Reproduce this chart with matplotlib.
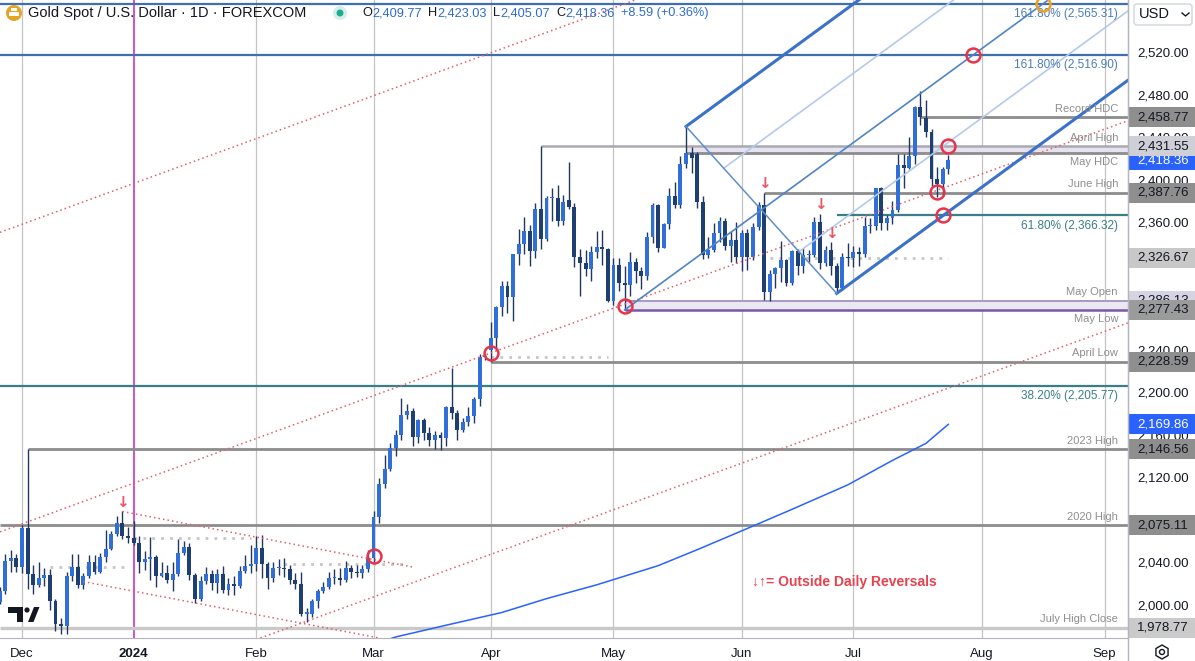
import numpy as np
import pandas as pd
import matplotlib
matplotlib.use("Agg")
import matplotlib.pyplot as plt
from matplotlib.patches import Rectangle, Circle, Polygon, RegularPolygon, FancyBboxPatch
from matplotlib.transforms import blended_transform_factory, Affine2D

plt.rcParams["font.family"] = ["Liberation Sans", "DejaVu Sans"]

# ---------------- data ----------------
first_day, last_day = "2023-11-27", "2024-09-06"
holidays = ["2023-12-25", "2024-01-01"]

# daily OHLC, Nov 27 2023 .. Jul 24 2024
opens = [2003, 2013, 2041, 2044,
         2036, 2072, 2029, 2019, 2025, 2028, 2004, 1982, 1980, 2027, 2036, 2019, 2027, 2040, 2031, 2045, 2053, 2067, 2077, 2065,
         2063, 2058, 2040, 2043, 2045, 2027, 2030, 2024, 2029, 2049, 2055, 2028, 2006, 2023, 2029, 2021, 2029, 2014, 2020, 2018, 2032, 2037,
         2039, 2054, 2039, 2025, 2035, 2035, 2034, 2024, 2020, 1992, 1992, 2004, 2013, 2017, 2025, 2025, 2024, 2035, 2031, 2030, 2034,
         2044, 2083, 2114, 2128, 2148, 2160, 2179, 2182, 2158, 2174, 2162, 2155, 2160, 2157, 2186, 2181, 2165, 2172, 2178, 2194, 2233,
         2240, 2251, 2280, 2300, 2290, 2330, 2339, 2352, 2333, 2372, 2344, 2383, 2383, 2361, 2381, 2374, 2327, 2322, 2316, 2332, 2337, 2335,
         2286.13, 2320, 2303, 2301, 2323, 2314, 2309, 2346, 2376, 2336, 2358, 2385, 2376, 2415, 2425, 2424, 2379, 2329, 2334, 2350, 2361, 2338, 2343,
         2327, 2350, 2327, 2355, 2376, 2294, 2311, 2317, 2324, 2303, 2333, 2319, 2329, 2329, 2360, 2322, 2334, 2319, 2298, 2327,
         2326.67, 2332, 2330, 2356, 2356, 2392, 2359, 2364, 2371, 2414, 2411, 2422, 2468, 2458, 2445, 2401, 2396, 2409.77]
highs = [2017, 2048, 2052, 2048,
         2075, 2146.56, 2038, 2040, 2035, 2034, 2006, 1988, 2031, 2048, 2048, 2030, 2047, 2047, 2049, 2071, 2070, 2084, 2088, 2073,
         2079, 2065, 2051, 2064, 2047, 2040, 2038, 2040, 2062, 2060, 2058, 2030, 2027, 2036, 2033, 2034, 2037, 2025, 2027, 2037, 2047, 2056,
         2065, 2066, 2040, 2040, 2043, 2044, 2038, 2030, 2031, 1997, 2006, 2015, 2022, 2031, 2034, 2035, 2041, 2038, 2038, 2038, 2052,
         2088, 2119, 2141, 2152, 2165, 2195, 2189, 2185, 2175, 2176, 2167, 2164, 2163, 2187, 2223, 2183, 2176, 2186, 2196, 2236, 2236,
         2266, 2281, 2305, 2305, 2330, 2354, 2365, 2357, 2378, 2431.55, 2385, 2392, 2395, 2386, 2417, 2378, 2335, 2334, 2338, 2352, 2353, 2336,
         2326, 2326, 2319, 2332, 2326, 2318, 2351, 2378, 2377, 2359, 2392, 2398, 2422, 2450, 2431, 2426, 2385, 2346, 2359, 2365, 2364, 2352, 2360,
         2353, 2354, 2359, 2379, 2387.76, 2315, 2318, 2342, 2325, 2334, 2335, 2336, 2334, 2365, 2368, 2338, 2341, 2322, 2331, 2340,
         2338, 2337, 2365, 2364, 2392, 2393, 2367, 2380, 2424, 2424, 2440, 2469, 2483, 2475, 2448, 2412, 2412, 2423.03]
lows = [2001, 2010, 2031, 2031,
        2030, 2015, 2010, 2017, 2018, 1995, 1976, 1973, 1973, 2023, 2016, 2015, 2025, 2029, 2030, 2040, 2052, 2065, 2062, 2058,
        2056, 2030, 2033, 2024, 2017, 2026, 2021, 2013, 2027, 2047, 2024, 2002, 2004, 2020, 2014, 2011, 2011, 2009, 2009, 2016, 2030, 2030,
        2032, 2025, 2015, 2022, 2028, 2026, 2020, 2015, 1990, 1984, 1989, 1997, 2011, 2015, 2020, 2019, 2022, 2025, 2026, 2025, 2031,
        2040, 2077, 2110, 2126, 2140, 2155, 2175, 2150, 2152, 2155, 2150, 2147, 2146, 2150, 2175, 2155, 2163, 2168, 2171, 2187, 2230,
        2228.59, 2240, 2272, 2275, 2267, 2320, 2330, 2319, 2326, 2335, 2342, 2361, 2356, 2357, 2372, 2318, 2291, 2309, 2305, 2326, 2320, 2285,
        2282, 2295, 2277.43, 2291, 2303, 2297, 2306, 2340, 2332, 2336, 2354, 2373, 2373, 2411, 2406, 2373, 2325, 2326, 2332, 2341, 2334, 2323, 2322,
        2314, 2315, 2324, 2353, 2287, 2286, 2298, 2304, 2300, 2301, 2310, 2312, 2323, 2327, 2316, 2319, 2310, 2293, 2296, 2319,
        2318, 2319, 2327, 2350, 2353, 2353, 2353, 2358, 2370, 2392, 2410, 2415, 2451, 2440, 2394, 2384, 2385, 2405.07]
closes = [2013, 2041, 2044, 2036,
          2072, 2029, 2019, 2025, 2028, 2004, 1982, 1980, 2027, 2036, 2019, 2027, 2040, 2031, 2045, 2053, 2067, 2077, 2065, 2063,
          2058, 2040, 2043, 2045, 2027, 2030, 2024, 2029, 2049, 2055, 2028, 2006, 2023, 2029, 2021, 2029, 2014, 2020, 2018, 2032, 2037, 2039,
          2054, 2039, 2025, 2035, 2035.5, 2034, 2024, 2020, 1992, 1992.5, 2004, 2013, 2017, 2025, 2025.5, 2024, 2035, 2031, 2030, 2034, 2044,
          2083, 2114, 2128, 2148, 2160, 2179, 2182, 2158, 2174, 2162, 2155, 2160, 2157, 2186, 2181, 2165, 2172, 2178, 2194, 2233, 2234,
          2251, 2280, 2300, 2290, 2330, 2339, 2352, 2333, 2372, 2344, 2383, 2383.5, 2361, 2379, 2374, 2327, 2322, 2316, 2332, 2337, 2335, 2286.13,
          2320, 2303, 2301, 2323, 2314, 2309, 2346, 2376, 2336, 2358, 2385, 2376, 2415, 2425, 2420, 2379, 2329, 2334, 2350, 2361, 2338, 2343, 2327,
          2350, 2327, 2355, 2376, 2294, 2311, 2317, 2324, 2303, 2333, 2319, 2329, 2329.5, 2360, 2322, 2334, 2319, 2298, 2327, 2326.67,
          2332, 2330, 2356, 2356.5, 2392, 2359, 2364, 2371, 2414, 2411, 2422, 2468, 2458.77, 2445, 2401, 2396, 2409.77, 2418.36]

# 200-day moving average, read at a few dates
sma_dates = ["2024-03-01", "2024-03-07", "2024-03-20", "2024-04-03", "2024-04-15", "2024-04-26", "2024-05-13",
             "2024-05-22", "2024-06-04", "2024-06-14", "2024-06-28", "2024-07-10", "2024-07-18", "2024-07-24"]
sma_values = [1963, 1970, 1981, 1993, 2006, 2019, 2037, 2052, 2072, 2090, 2113, 2136, 2152, 2169.86]

# horizontal levels
level_labels = ["161.80% (2,565.31)", "161.80% (2,516.90)", "Record HDC", "April High", "May HDC", "June High",
                "61.80% (2,366.32)", "May Open", "May Low", "April Low", "38.20% (2,205.77)", "2023 High",
                "2020 High", "July High Close"]
level_prices = [2565.31, 2516.90, 2458.77, 2431.55, 2425.0, 2387.76, 2366.32, 2286.13, 2277.43, 2228.59,
                2205.77, 2146.56, 2075.11, 1978.77]
level_starts = [None, None, "2024-07-17", "2024-04-12", "2024-05-20", "2024-06-07", "2024-06-26", "2024-05-03",
                "2024-05-03", "2024-04-01", None, "2023-12-04", None, None]

# period-open dotted levels (start, end, price)
open_starts = ["2023-12-08", "2024-01-02", "2024-02-08", "2024-04-01", "2024-06-10"]
open_ends = ["2023-12-29", "2024-01-31", "2024-03-11", "2024-04-30", "2024-07-24"]
open_prices = [2036, 2063, 2039, 2233, 2326.67]

# pitchfork pivots
pivot_dates = ["2024-05-03", "2024-05-20", "2024-06-26"]
pivot_prices = [2277.43, 2450.0, 2293.0]

# red dotted trendlines (two anchors each)
rising_a = [("2023-12-01", 2358.0), ("2024-04-22", 2548.0)]
rising_b = [("2024-04-01", 2237.0), ("2024-07-22", 2390.0)]
rising_c = [("2024-02-01", 1967.6), ("2024-07-24", 2203.9)]
falling_a = [("2023-12-28", 2088.0), ("2024-03-12", 2035.7)]
falling_b = [("2023-12-18", 2022.0), ("2024-03-04", 1969.0)]

# markers
circle_dates = ["2024-03-01", "2024-04-01", "2024-05-03", "2024-07-22", "2024-07-24"]
circle_prices = [2046, 2237, 2281, 2388, 2431.5]
reversal_dates = ["2023-12-28", "2024-06-07", "2024-06-21", "2024-06-25"]

# ---------------- layout ----------------
W, H = 1195, 661
PLOT_R, PLOT_B = 1128, 638
BAR_PX = 5.58
PX_PER_USD = 1.0635
Y_TOP = 2568.9

days = pd.bdate_range(first_day, last_day)
days = days[~days.isin(pd.to_datetime(holidays))]
pos = {d.strftime("%Y-%m-%d"): k for k, d in enumerate(days)}

fig = plt.figure(figsize=(W / 100, H / 100), dpi=100)
ax = fig.add_axes([0, (H - PLOT_B) / H, PLOT_R / W, PLOT_B / H])
x0 = pos["2023-12-01"] - 22 / BAR_PX
x1 = x0 + PLOT_R / BAR_PX
y0 = Y_TOP - PLOT_B / PX_PER_USD
ax.set_xlim(x0, x1)
ax.set_ylim(y0, Y_TOP)

to_fig = Affine2D().scale(1 / W, -1 / H).translate(0, 1) + fig.transFigure
blend = blended_transform_factory(ax.transAxes, ax.transData)

for s in ["top", "left"]:
    ax.spines[s].set_visible(False)
ax.spines["right"].set_color("#b2b5be")
ax.spines["bottom"].set_color("#b2b5be")

# month grid + ticks
month_first = days.to_series().groupby(days.to_period("M")).first()
month_first = month_first[month_first >= pd.Timestamp("2023-12-01")]
mpos = [pos[d.strftime("%Y-%m-%d")] for d in month_first]
mlab = ["2024" if d.month == 1 else d.strftime("%b") for d in month_first]
for p, lab in zip(mpos, mlab):
    if lab == "2024":
        ax.axvline(p, color="#cc44cc", lw=1.3, zorder=1)
    else:
        ax.axvline(p, color="#c4c4c4", lw=0.9, zorder=0.5)
ax.set_xticks(mpos)
ax.set_xticklabels(mlab)
ax.tick_params(axis="x", length=0, pad=7, labelsize=9.5, labelcolor="#131722")
for t in ax.get_xticklabels():
    if t.get_text() == "2024":
        t.set_fontweight("bold")

# price-axis boxes (drawn later); ticks fully covered by them are left out
box_prices = [closes[-1], 2431.55, 2458.77, 2387.76, 2326.67, 2286.13, 2277.43, 2228.59,
              sma_values[-1], 2146.56, 2075.11, 1978.77]
hbox = 20 / PX_PER_USD
ax.yaxis.tick_right()
yt = [v for v in range(2000, 2521, 40) if min(abs(v - b) for b in box_prices) > 7.5]
ax.set_yticks(yt)
ax.set_yticklabels([f"{v:,.2f}" for v in yt])
ax.tick_params(axis="y", length=0, pad=6.5, labelsize=9.5, labelcolor="#131722")

# horizontal levels
level_style = ["blue", "blue", "gray", "lgray", "gray", "gray", "teal", "btop", "bbot", "gray", "teal", "gray", "gray", "light"]
level_above = [False, False, True, True, False, True, False, True, False, True, False, True, True, True]
colors = {"blue": ("#3f6faf", 1.6), "gray": ("#8c8c8c", 2.0), "lgray": ("#a9a9b3", 1.8),
          "teal": ("#3a7f87", 1.6), "btop": ("#a898c8", 1.4), "bbot": ("#7b58a6", 1.8), "light": ("#c9c9c9", 2.4)}
text_col = {"blue": "#4a7cbc", "teal": "#3a7f87"}
for lab, p, st, kind, above in zip(level_labels, level_prices, level_starts, level_style, level_above):
    xs = pos[st] if st else x0
    col, lw = colors[kind]
    ax.plot([xs, x1], [p, p], color=col, lw=lw, zorder=2, solid_capstyle="butt")
    fs = 8.5 if kind in ("blue", "teal") else 8
    ax.annotate(lab, xy=(1118 / PLOT_R, p), xycoords=blend, xytext=(0, 2.5 if above else -3),
                textcoords="offset points", ha="right", va="bottom" if above else "top",
                fontsize=fs, color=text_col.get(kind, "#8e8e8e"), zorder=6)

# lavender bands
i_may20 = pos["2024-05-20"]
ax.fill_between([i_may20, x1], 2425.0, 2431.55, color="#e6e2f0", zorder=1.5, lw=0)
i_may3 = pos["2024-05-03"]
ax.fill_between([i_may3, x1], 2277.43, 2286.13, color="#ebe7f3", zorder=1.5, lw=0)

# dotted period opens
for s, e, p in zip(open_starts, open_ends, open_prices):
    ax.plot([pos[s], pos[e]], [p, p], color="#c6c6c6", lw=2, ls=(0, (1, 2.2)), zorder=2)

# 200 SMA
ax.plot([pos[d] for d in sma_dates], sma_values, color="#2962ff", lw=1.1, zorder=3)

# candles
o, h, l, c = map(np.array, (opens, highs, lows, closes))
idx = np.arange(len(c))
up = c >= o
ax.vlines(idx, l, h, colors="#22365e", lw=1, zorder=3.5)
ax.bar(idx, np.maximum(np.abs(c - o), 1.0), bottom=np.minimum(o, c), width=0.7,
       color=np.where(up, "#2f6fd7", "#1f3e72"), lw=0, zorder=4)

# red dotted trendlines
for line in (rising_a, rising_b, rising_c):
    (d1, p1), (d2, p2) = line
    ax.axline((pos[d1], p1), (pos[d2], p2), color="#e0606e", lw=1.1, ls=(0, (1, 2)), zorder=5)
for line in (falling_a, falling_b):
    (d1, p1), (d2, p2) = line
    ax.plot([pos[d1], pos[d2]], [p1, p2], color="#e0606e", lw=1.1, ls=(0, (1, 2)), zorder=5)

# pitchfork
i1, i2, i3 = [pos[d] for d in pivot_dates]
p1, p2, p3 = pivot_prices
mi, mp = (i2 + i3) / 2, (p2 + p3) / 2
slope = (mp - p1) / (mi - i1)


def ray(i, p, col, lw):
    ax.plot([i, x1], [p, p + slope * (x1 - i)], color=col, lw=lw, zorder=5.5)


ray(i1, p1, "#4f84c6", 1.2)
ray(i2, p2, "#3a72c9", 2.2)
ray(i3, p3, "#3a72c9", 2.2)
for f in (0.25, 0.75):
    ray(i2 + f * (i3 - i2), p2 + f * (p3 - p2), "#b3caea", 1.2)
ax.plot([i2, i3], [p2, p3], color="#5d8fcb", lw=1.1, zorder=5.5)

# circles
ring = dict(ms=10, mfc="none", mew=1.8, zorder=7)
for d, p in zip(circle_dates, circle_prices):
    ax.plot(pos[d], p, "o", mec="#e8334a", **ring)
ax.plot(i1 + (2516.90 - p1) / slope, 2516.90, "o", mec="#e8334a", **ring)
ax.plot(i3 + (2366.32 - p3) / slope, 2366.32, "o", mec="#e8334a", **ring)
ax.plot(i1 + (2565.31 - p1) / slope, 2565.31, "o", mec="#f0a020", **ring)

# outside-reversal arrows
for d in reversal_dates:
    k = pos[d]
    ax.annotate("↓", xy=(k, highs[k]), xytext=(0, 1), textcoords="offset points", ha="center",
                va="bottom", fontsize=11, color="#ef5361", fontweight="bold", zorder=7,
                family=["DejaVu Sans"])

fig.text(752, 582, "↓↑= Outside Daily Reversals", transform=to_fig, ha="left", va="center",
         fontsize=10, color="#e8414f", fontweight="bold")

# price-axis boxes
box_fc = ["#2962ff", "#cfcfd8", "#8e8e8e", "#8e8e8e", "#c8c8c8", "#d6d3e3", "#9b9b9b", "#8e8e8e",
          "#2962ff", "#8e8e8e", "#8e8e8e", "#cacaca"]
for k, (p, fc) in enumerate(zip(box_prices, box_fc)):
    z = 20 + 2 * k
    ax.add_patch(Rectangle((1129 / PLOT_R, p - hbox / 2), (W - 1129) / PLOT_R, hbox, transform=blend,
                           fc=fc, ec="none", clip_on=False, zorder=z))
    ax.text(1137 / PLOT_R, p, f"{p:,.2f}", transform=blend, ha="left", va="center", fontsize=9.5,
            color="white" if fc == "#2962ff" else "#131722", clip_on=False, zorder=z + 1)

# right border through the axis strip
fig.add_artist(plt.Line2D([PLOT_R, PLOT_R], [0, H], transform=to_fig, color="#b2b5be", lw=1))

# header
fig.add_artist(Circle((14, 13), 8, transform=to_fig, fc="#e3a524", ec="none"))
fig.add_artist(Rectangle((9, 12), 10, 4, transform=to_fig, fc="white", ec="none"))
fig.add_artist(Rectangle((11, 8), 6, 3, transform=to_fig, fc="white", ec="none"))
fig.text(28, 13, "Gold Spot / U.S. Dollar · 1D · FOREXCOM", transform=to_fig, va="center",
         fontsize=10.5, color="#131722")
fig.add_artist(Circle((340, 13), 7, transform=to_fig, fc="#d5efea", ec="none"))
fig.add_artist(Circle((340, 13), 3.5, transform=to_fig, fc="#22ab94", ec="none"))
chg = c[-1] - o[-1]
parts = [("O", "#131722", 0.5), (f"{o[-1]:,.2f}", "#2e6ad6", 6), ("H", "#131722", 0.5),
         (f"{h[-1]:,.2f}", "#2e6ad6", 6), ("L", "#131722", 0.5), (f"{l[-1]:,.2f}", "#2e6ad6", 6),
         ("C", "#131722", 0.5), (f"{c[-1]:,.2f}", "#2e6ad6", 6),
         (f"+{chg:.2f} (+{chg / o[-1] * 100:.2f}%)", "#2e6ad6", 0)]
renderer = fig.canvas.get_renderer()
xcur = 362
for txt, col, gap in parts:
    t = fig.text(xcur, 13, txt, transform=to_fig, va="center", fontsize=9.2, color=col)
    xcur += t.get_window_extent(renderer).width + gap

# USD box
fig.add_artist(FancyBboxPatch((1134, 4), 58, 21, boxstyle="round,pad=0,rounding_size=3", transform=to_fig,
                              fc="white", ec="#d1d4dc", lw=1))
fig.text(1139, 14.5, "USD", transform=to_fig, va="center", fontsize=10.5, color="#131722")
fig.add_artist(plt.Line2D([1182, 1185.5, 1189], [13, 16, 13], transform=to_fig, color="#131722", lw=1))

# gear icon
fig.add_artist(RegularPolygon((1162, 652), 6, radius=7, transform=to_fig, fc="none", ec="#131722", lw=1))
fig.add_artist(Circle((1162, 652), 2.5, transform=to_fig, fc="none", ec="#131722", lw=1))

# TradingView logo
fig.add_artist(Polygon([(8, 607), (23, 607), (23, 622), (17, 622), (17, 613), (8, 613)], transform=to_fig,
                       fc="#131722", ec="none"))
fig.add_artist(Circle((27, 610), 2.6, transform=to_fig, fc="#131722", ec="none"))
fig.add_artist(Polygon([(28, 622), (33.5, 622), (39.5, 607), (34, 607)], transform=to_fig,
                       fc="#131722", ec="none"))

fig.savefig("out.png", dpi=100)
